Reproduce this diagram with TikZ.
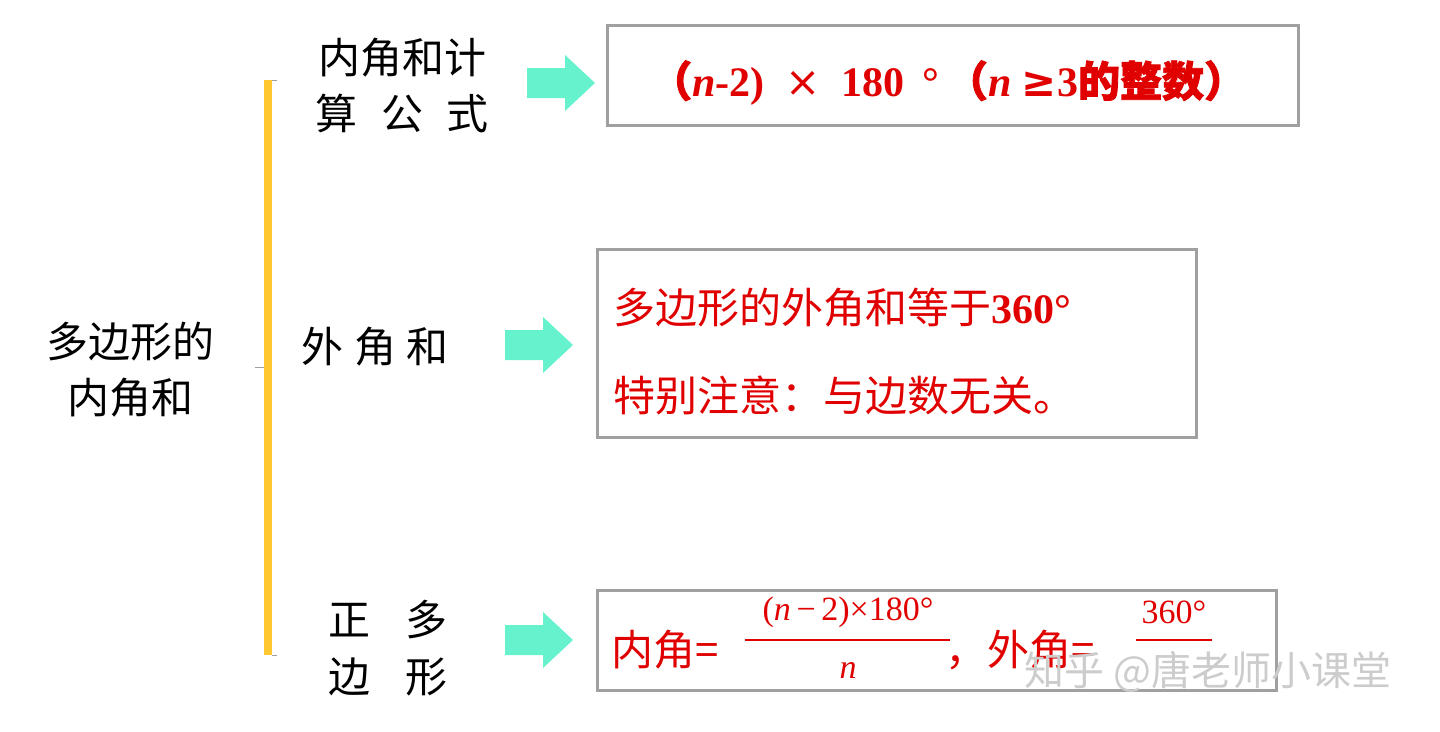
\documentclass[tikz,border=0pt]{standalone}
\usepackage{fontspec}
\setmainfont{Liberation Serif}
\newfontfamily\cjk{Noto Sans CJK SC}
\newfontfamily\cjkb[FakeBold=2]{Noto Sans CJK SC}
\newfontfamily\djv{DejaVu Sans}
\definecolor{bred}{HTML}{E00000}
\definecolor{arr}{HTML}{66F2CC}
\definecolor{bord}{HTML}{A0A0A0}
\definecolor{bar}{HTML}{FFC830}
\tikzset{x=1pt,y=-1pt,
 lbl/.style={font=\cjk\fontsize{42}{44}\selectfont,inner sep=0pt},
 rbox/.style={draw=bord,line width=3pt},
 barrow/.style={fill=arr,draw=none},
 rt/.style={text=bred,inner sep=0pt,anchor=west}}
\begin{document}
\begin{tikzpicture}
\useasboundingbox (0,0) rectangle (1440,731);
% bracket
\draw[bord,line width=1pt] (255,367) -- (264,367);
\draw[bord,line width=1pt] (272,80) -- (277,80) (272,655) -- (277,655);
\fill[bar] (264,80) rectangle (272,655);
% left label
\node[lbl] (root1) at (130,342) {多边形的};
\node[lbl] (root2) at (130,398) {内角和};
\node[lbl] (a1) at (402,58) {内角和计};
\node[lbl] (a2) at (402,113) {算\hspace{0.55em}公\hspace{0.55em}式};
\node[lbl] (b1) at (375,347) {外\hspace{0.25em}角\hspace{0.25em}和};
\node[lbl] (c1) at (388,620) {正\hspace{0.85em}多};
\node[lbl] (c2) at (388,677) {边\hspace{0.85em}形};
% arrows
\foreach \x/\y in {527/83,505/345,505/640}{
 \fill[barrow] (\x,\y-15) -- (\x+38,\y-15) -- (\x+38,\y-28) -- (\x+68,\y) -- (\x+38,\y+28) -- (\x+38,\y+15) -- (\x,\y+15) -- cycle;}
% boxes
\draw[rbox] (607,25) rectangle (1298,125);
\draw[rbox] (597,249) rectangle (1196,437);
\draw[rbox] (597,590) rectangle (1276,690);
% box1 text
\node[rt] (t1) at (650,83) {\fontsize{42}{44}\selectfont\bfseries{\cjkb （}\textit{n}-2)\ \ {\djv\mdseries ×}\ \ 180\ \,°\,{\cjkb （}\textit{n}\ {\djv≥}3{\cjkb 的整数）}};
% box2 text
\node[rt] (t2) at (613,308) {\fontsize{42}{44}\selectfont{\cjk 多边形的外角和等于}\textbf{360°}};
\node[rt] (t3) at (613,395) {\fontsize{42}{44}\selectfont\cjk 特别注意：与边数无关。};
% box3 text
\node[rt] (t4) at (611,650) {\fontsize{42}{44}\selectfont{\cjk 内角=}};
\node[text=bred,inner sep=0pt] (n1) at (848,612) {\fontsize{34}{36}\selectfont(\textit{n}\,−\,2)×180°};
\draw[bred,line width=1.5pt] (745,640) -- (950,640);
\node[text=bred,inner sep=0pt] (d1) at (848,670) {\fontsize{34}{36}\selectfont\textit{n}};
\node[rt] (t5) at (945,650) {\fontsize{42}{44}\selectfont{\cjk ，外角=}};
\node[text=bred,inner sep=0pt] (n2) at (1174,612) {\fontsize{34}{36}\selectfont 360°};
\draw[bred,line width=1.5pt] (1136,640) -- (1212,640);
% watermark
\node[inner sep=0pt,text=gray!40,font=\cjk\fontsize{40}{42}\selectfont] (wm) at (1208,672) {知乎 @唐老师小课堂};
\end{tikzpicture}
\end{document}
